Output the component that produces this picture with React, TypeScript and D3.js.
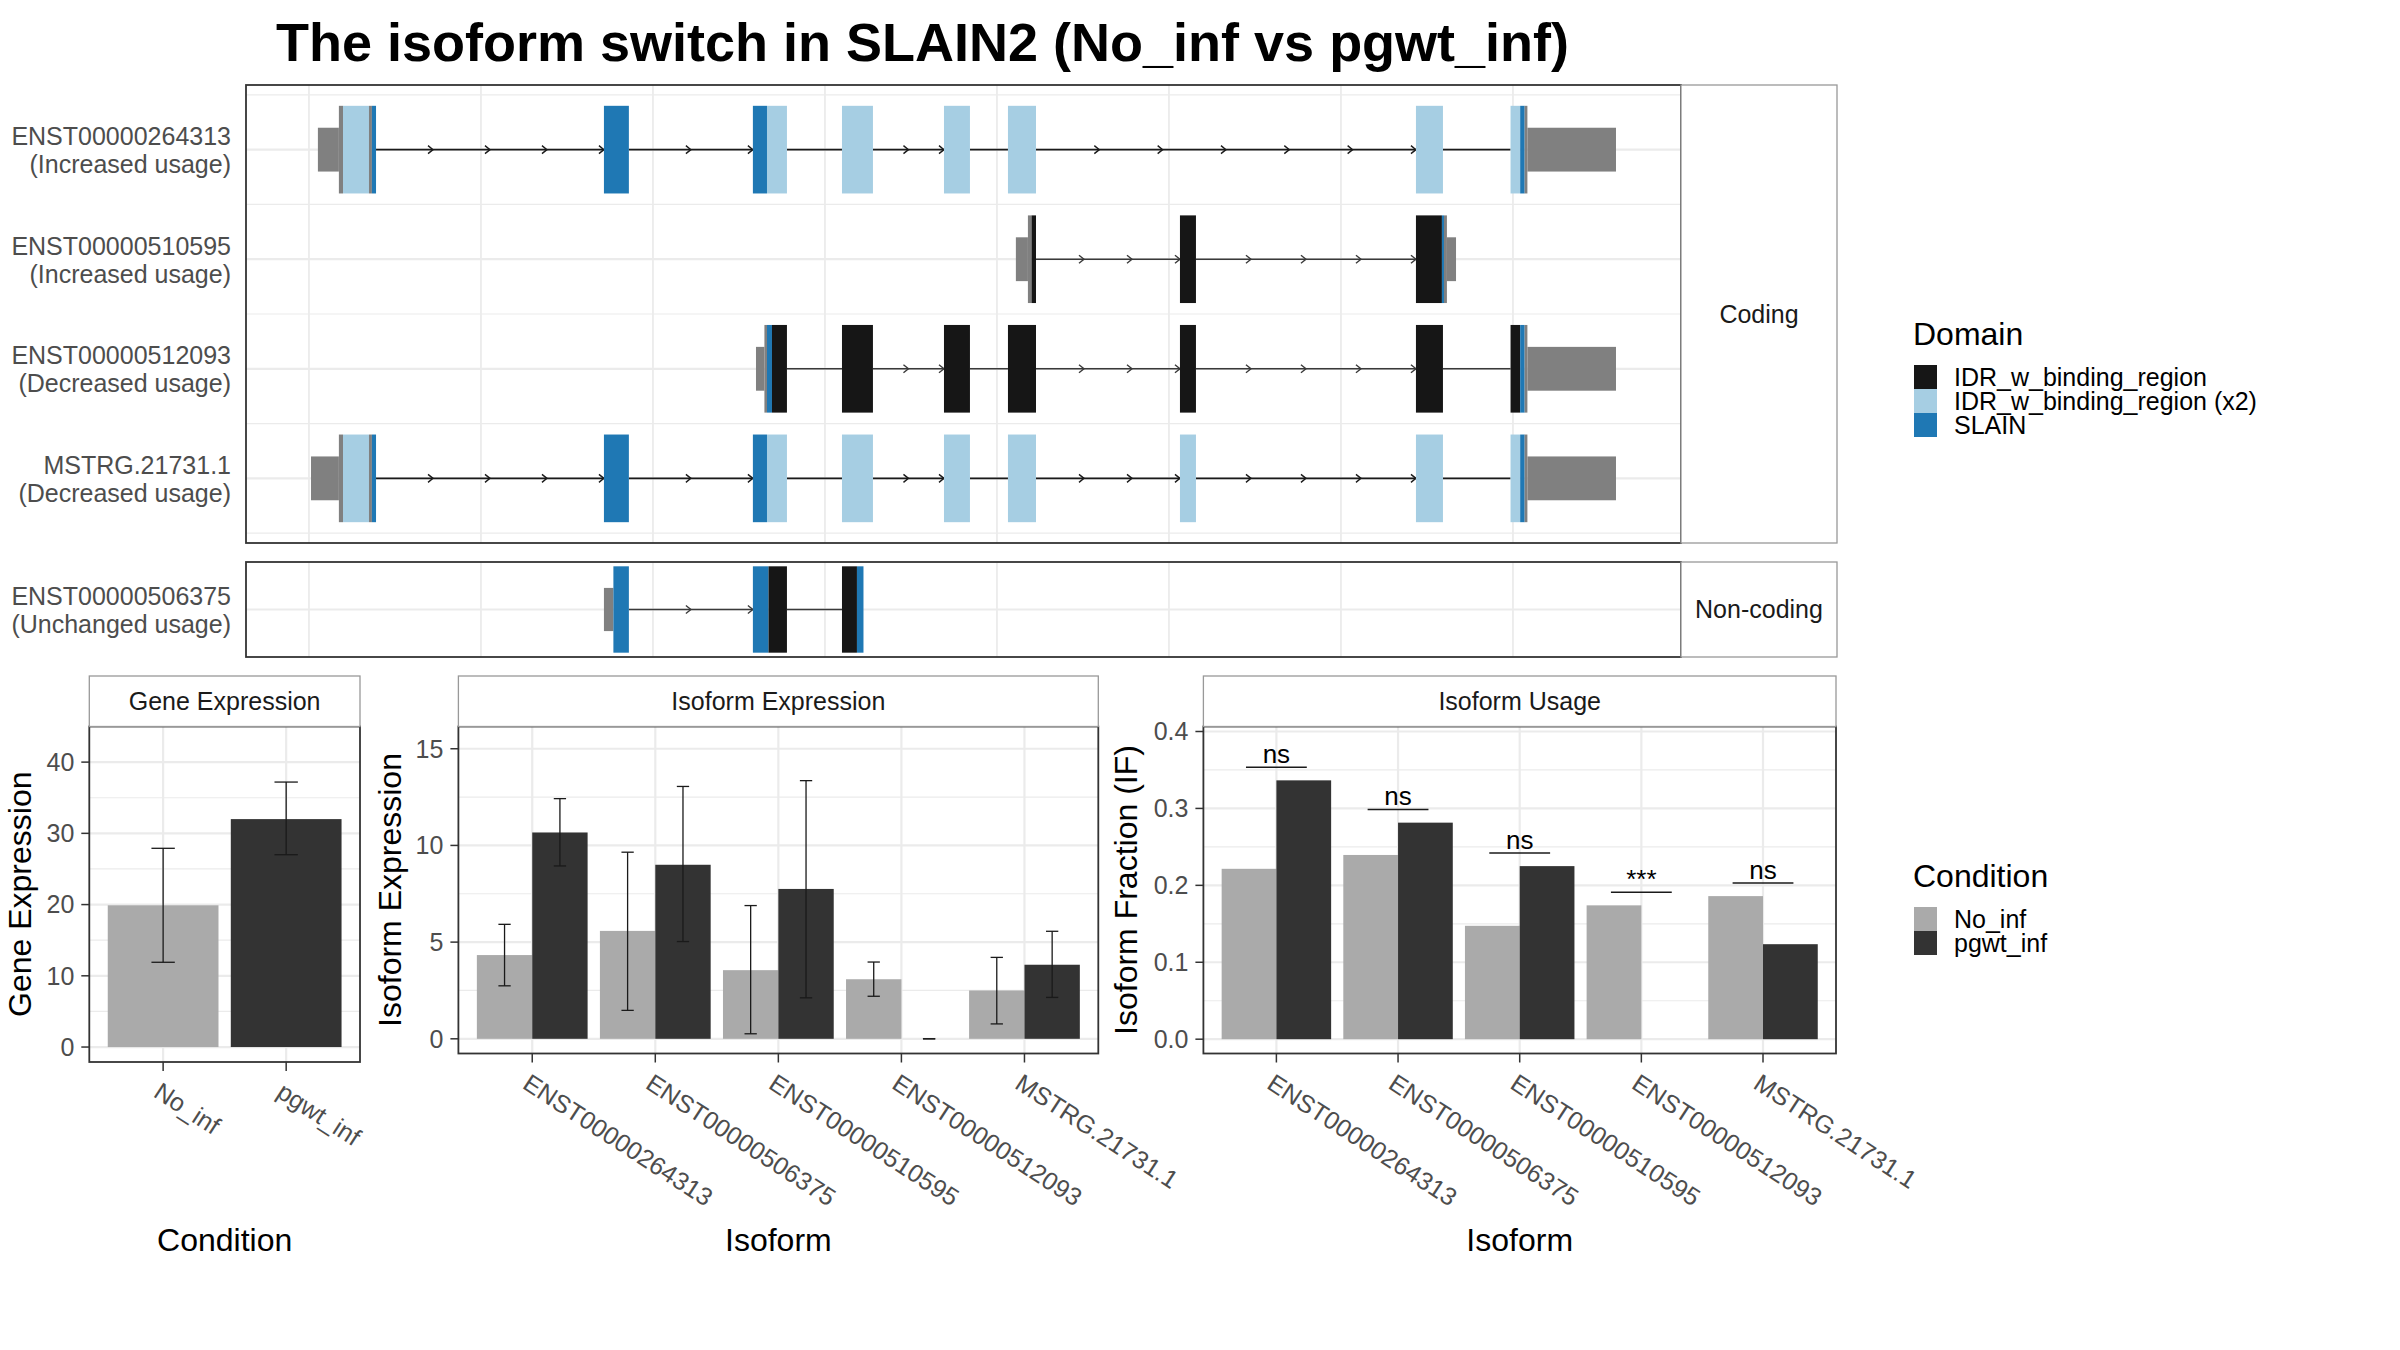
import React from 'react';
import * as d3 from 'd3';

const FONT = "'Liberation Sans', Arial, Helvetica, sans-serif";

// ---------------- Data ----------------
const titleText = 'The isoform switch in SLAIN2 (No_inf vs pgwt_inf)';

const domainNames = ['IDR_w_binding_region', 'IDR_w_binding_region (x2)', 'SLAIN'];
const domainColors = ['#161616', '#A6CEE3', '#1F78B4'];
const kindColor: Record<string, string> = {
  utr: '#808080',
  cds: '#808080',
  IDR: domainColors[0],
  IDR2: domainColors[1],
  SLAIN: domainColors[2],
};

type Seg = [number, number, string];

// exon segments in relative genomic coordinates (grid lines every 1000)
const tx264313: Seg[][] = [
  [[52, 174, 'utr'], [174, 198, 'cds'], [198, 349, 'IDR2'], [349, 366, 'cds'], [366, 390, 'SLAIN']],
  [[1715, 1860, 'SLAIN']],
  [[2581, 2663, 'SLAIN'], [2663, 2779, 'IDR2']],
  [[3099, 3279, 'IDR2']],
  [[3692, 3843, 'IDR2']],
  [[4064, 4227, 'IDR2']],
  [[6436, 6593, 'IDR2']],
  [[6986, 7042, 'IDR2'], [7042, 7068, 'SLAIN'], [7068, 7084, 'cds'], [7084, 7599, 'utr']],
];
const arrows264313 = [4, 2, 0, 2, 0, 6, 0];

const tx510595: Seg[][] = [
  [[4110, 4180, 'utr'], [4180, 4201, 'cds'], [4201, 4227, 'IDR']],
  [[5064, 5157, 'IDR']],
  [[6436, 6587, 'IDR'], [6587, 6599, 'SLAIN'], [6599, 6616, 'cds'], [6616, 6669, 'utr']],
];
const arrows510595 = [3, 4];

const tx512093: Seg[][] = [
  [[2599, 2648, 'utr'], [2648, 2663, 'cds'], [2663, 2692, 'SLAIN'], [2692, 2779, 'IDR']],
  [[3099, 3279, 'IDR']],
  [[3692, 3843, 'IDR']],
  [[4064, 4227, 'IDR']],
  [[5064, 5157, 'IDR']],
  [[6436, 6593, 'IDR']],
  [[6986, 7042, 'IDR'], [7042, 7068, 'SLAIN'], [7068, 7084, 'cds'], [7084, 7599, 'utr']],
];
const arrows512093 = [0, 2, 0, 3, 4, 0];

const txMSTRG: Seg[][] = [
  [[12, 174, 'utr'], [174, 198, 'cds'], [198, 349, 'IDR2'], [349, 366, 'cds'], [366, 390, 'SLAIN']],
  [[1715, 1860, 'SLAIN']],
  [[2581, 2663, 'SLAIN'], [2663, 2779, 'IDR2']],
  [[3099, 3279, 'IDR2']],
  [[3692, 3843, 'IDR2']],
  [[4064, 4227, 'IDR2']],
  [[5064, 5157, 'IDR2']],
  [[6436, 6593, 'IDR2']],
  [[6986, 7042, 'IDR2'], [7042, 7068, 'SLAIN'], [7068, 7084, 'cds'], [7084, 7599, 'utr']],
];
const arrowsMSTRG = [4, 2, 0, 2, 0, 3, 4, 0];

const tx506375: Seg[][] = [
  [[1715, 1770, 'utr'], [1770, 1860, 'SLAIN']],
  [[2581, 2672, 'SLAIN'], [2672, 2779, 'IDR']],
  [[3099, 3186, 'IDR'], [3186, 3224, 'SLAIN']],
];
const arrows506375 = [2, 0];

const codingIds = ['ENST00000264313', 'ENST00000510595', 'ENST00000512093', 'MSTRG.21731.1'];
const codingUsage = ['(Increased usage)', '(Increased usage)', '(Decreased usage)', '(Decreased usage)'];
const nonCodingIds = ['ENST00000506375'];
const nonCodingUsage = ['(Unchanged usage)'];

const genomeDomain = [-366, 7977];
const genomeGrid = [0, 1000, 2000, 3000, 4000, 5000, 6000, 7000];

// Gene expression
const conditions = ['No_inf', 'pgwt_inf'];
const conditionColors = ['#AAAAAA', '#333333'];
const geneExpr = [19.9, 32.0];
const geneLo = [11.9, 27.0];
const geneHi = [27.9, 37.2];

// Isoform expression
const isoforms = ['ENST00000264313', 'ENST00000506375', 'ENST00000510595', 'ENST00000512093', 'MSTRG.21731.1'];
const isoNo = [4.33, 5.58, 3.55, 3.08, 2.5];
const isoNoLo = [2.74, 1.47, 0.26, 2.2, 0.77];
const isoNoHi = [5.92, 9.65, 6.89, 3.97, 4.21];
const isoPg = [10.67, 9.0, 7.75, 0, 3.83];
const isoPgLo = [8.94, 5.03, 2.12, 0, 2.14];
const isoPgHi = [12.42, 13.05, 13.35, 0, 5.56];

// Isoform usage
const ifNo = [0.2215, 0.2395, 0.1474, 0.174, 0.186];
const ifPg = [0.3365, 0.2815, 0.225, 0, 0.1235];
const sigLabels = ['ns', 'ns', 'ns', '***', 'ns'];

// ---------------- Styles ----------------
const GRID = '#EBEBEB';
const BORDER = '#333333';
const STRIP_BORDER = '#999999';
const TICK_TXT = '#4D4D4D';

// ---------------- Components ----------------
function TranscriptPanel(props: any) {
  const { ids, usage, exonsList, arrowsList, lineColors, x0, x1, y0, y1, yDomain, strip } = props;
  const xs = d3.scaleLinear().domain(genomeDomain).range([x0, x1]);
  const ys = d3.scaleLinear().domain(yDomain).range([y0, y1]);
  const n = ids.length;
  const majorY = d3.range(1, n + 1);
  const minorY = d3.range(0.5, n + 1, 1).filter((v) => v > yDomain[0] && v < yDomain[1]);
  const cdsH = 0.4;
  const utrH = 0.2;
  return (
    <g>
      <rect x={x0} y={y0} width={x1 - x0} height={y1 - y0} fill="#fff" />
      {minorY.map((v) => (
        <line key={'mn' + v} x1={x0} x2={x1} y1={ys(v)} y2={ys(v)} stroke={GRID} strokeWidth={1.2} />
      ))}
      {majorY.map((v) => (
        <line key={'mj' + v} x1={x0} x2={x1} y1={ys(v)} y2={ys(v)} stroke={GRID} strokeWidth={2.2} />
      ))}
      {genomeGrid.map((g) => (
        <line key={'g' + g} x1={xs(g)} x2={xs(g)} y1={y0} y2={y1} stroke={GRID} strokeWidth={1.8} />
      ))}
      {exonsList.map((exons: Seg[][], ri: number) => {
        const yc = ys(ri + 1);
        const introns: any[] = [];
        for (let i = 0; i < exons.length - 1; i++) {
          const a = exons[i][exons[i].length - 1][1];
          const b = exons[i + 1][0][0];
          introns.push({ a, b, n: arrowsList[ri][i] });
        }
        return (
          <g key={'r' + ri}>
            {introns.map((it, ii) => (
              <g key={'i' + ii}>
                <line x1={xs(it.a)} x2={xs(it.b)} y1={yc} y2={yc} stroke={lineColors[ri]} strokeWidth={1.6} />
                {d3.range(it.n).map((k) => {
                  const ax = xs(it.a + ((k + 1) * (it.b - it.a)) / it.n);
                  return (
                    <path
                      key={'a' + k}
                      d={`M${ax - 5},${yc - 4}L${ax},${yc}L${ax - 5},${yc + 4}`}
                      fill="none"
                      stroke={lineColors[ri]}
                      strokeWidth={1.4}
                    />
                  );
                })}
              </g>
            ))}
            {exons.flat().map((s, si) => {
              const h = s[2] === 'utr' ? utrH : cdsH;
              return (
                <rect
                  key={'s' + si}
                  x={xs(s[0])}
                  width={xs(s[1]) - xs(s[0])}
                  y={ys(ri + 1 - h)}
                  height={ys(ri + 1 + h) - ys(ri + 1 - h)}
                  fill={kindColor[s[2]]}
                />
              );
            })}
            <text textAnchor="end" fontSize={25} fill={TICK_TXT}>
              <tspan x={231} y={yc - 4.7}>{ids[ri]}</tspan>
              <tspan x={231} y={yc + 23.7}>{usage[ri]}</tspan>
            </text>
          </g>
        );
      })}
      <rect x={x0} y={y0} width={x1 - x0} height={y1 - y0} fill="none" stroke={BORDER} strokeWidth={1.8} />
      <rect x={x1} y={y0} width={1837 - x1} height={y1 - y0} fill="#fff" stroke={STRIP_BORDER} strokeWidth={1.3} />
      <text x={(x1 + 1837) / 2} y={(y0 + y1) / 2 + 8.5} textAnchor="middle" fontSize={25} fill="#1A1A1A">
        {strip}
      </text>
    </g>
  );
}

function BarPanel(props: any) {
  const {
    x0, x1, y0, y1, cats, yDomain, yTicks, yMinor, fmt, strip, yTitle, yTitleX, xTitle,
    groups, colors, vals, los, his, sig, capFrac,
  } = props;
  const xp = d3.scalePoint().domain(cats).range([x0, x1]).padding(0.6);
  const step = xp.step();
  const ys = d3.scaleLinear().domain(yDomain).range([y1, y0]);
  const ng = groups;
  const bw = (0.9 * step) / ng;
  const tickEnd = y1 + 9;
  return (
    <g>
      <rect x={x0} y={y0} width={x1 - x0} height={y1 - y0} fill="#fff" />
      {yMinor.map((v: number) => (
        <line key={'mn' + v} x1={x0} x2={x1} y1={ys(v)} y2={ys(v)} stroke={GRID} strokeWidth={1.2} />
      ))}
      {yTicks.map((v: number) => (
        <line key={'mj' + v} x1={x0} x2={x1} y1={ys(v)} y2={ys(v)} stroke={GRID} strokeWidth={2.2} />
      ))}
      {cats.map((c: string) => (
        <line key={'vx' + c} x1={xp(c)} x2={xp(c)} y1={y0} y2={y1} stroke={GRID} strokeWidth={2.2} />
      ))}
      {cats.map((c: string, ci: number) => (
        <g key={'b' + c}>
          {d3.range(ng).map((gi) => {
            const v = vals[gi][ci];
            const color = ng === 1 ? colors[ci] : colors[gi];
            const bx = (xp(c) as number) - (0.9 * step) / 2 + gi * bw;
            return v > 0 ? (
              <rect key={'r' + gi} x={bx} width={bw} y={ys(v)} height={ys(0) - ys(v)} fill={color} />
            ) : null;
          })}
        </g>
      ))}
      {los &&
        cats.map((c: string, ci: number) => (
          <g key={'e' + c}>
            {d3.range(ng).map((gi) => {
              const cx = (xp(c) as number) - (0.9 * step) / 2 + gi * bw + bw / 2;
              const cw = (capFrac * step) / ng / 2;
              const lo = ys(los[gi][ci]);
              const hi = ys(his[gi][ci]);
              return (
                <g key={'eb' + gi} stroke="#1A1A1A" strokeWidth={1.3}>
                  <line x1={cx} x2={cx} y1={lo} y2={hi} />
                  <line x1={cx - cw} x2={cx + cw} y1={hi} y2={hi} />
                  <line x1={cx - cw} x2={cx + cw} y1={lo} y2={lo} />
                </g>
              );
            })}
          </g>
        ))}
      {sig &&
        cats.map((c: string, ci: number) => {
          const top = Math.max(vals[0][ci], vals[1][ci]) + 0.017;
          const cx = xp(c) as number;
          return (
            <g key={'s' + c}>
              <line x1={cx - step * 0.25} x2={cx + step * 0.25} y1={ys(top)} y2={ys(top)} stroke="#1A1A1A" strokeWidth={1.5} />
              <text x={cx} y={ys(top) - 4.5} textAnchor="middle" fontSize={26} fill="#000">
                {sig[ci]}
              </text>
            </g>
          );
        })}
      <rect x={x0} y={y0} width={x1 - x0} height={y1 - y0} fill="none" stroke={BORDER} strokeWidth={1.8} />
      {/* strip */}
      <rect x={x0} y={676} width={x1 - x0} height={y0 - 676} fill="#fff" stroke={STRIP_BORDER} strokeWidth={1.3} />
      <text x={(x0 + x1) / 2} y={(676 + y0) / 2 + 8.7} textAnchor="middle" fontSize={25} fill="#1A1A1A">
        {strip}
      </text>
      {/* y axis */}
      {yTicks.map((v: number) => (
        <g key={'yt' + v}>
          <line x1={x0 - 8} x2={x0} y1={ys(v)} y2={ys(v)} stroke={BORDER} strokeWidth={1.5} />
          <text x={x0 - 15} y={ys(v) + 8.8} textAnchor="end" fontSize={25} fill={TICK_TXT}>
            {fmt(v)}
          </text>
        </g>
      ))}
      {/* x axis */}
      {cats.map((c: string) => {
        const tx = xp(c) as number;
        return (
          <g key={'xt' + c}>
            <line x1={tx} x2={tx} y1={y1} y2={tickEnd} stroke={BORDER} strokeWidth={1.5} />
            <text
              transform={`translate(${tx - 11},${tickEnd + 25}) rotate(33)`}
              textAnchor="start"
              fontSize={25}
              fill={TICK_TXT}
            >
              {c}
            </text>
          </g>
        );
      })}
      <text x={(x0 + x1) / 2} y={1251} textAnchor="middle" fontSize={32} fill="#000">
        {xTitle}
      </text>
      <text
        transform={`translate(${yTitleX},${(y0 + y1) / 2}) rotate(-90)`}
        textAnchor="middle"
        fontSize={32}
        fill="#000"
      >
        {yTitle}
      </text>
    </g>
  );
}

function Legend(props: any) {
  const { x, titleY, keysY, title, names, colors } = props;
  return (
    <g>
      <text x={x} y={titleY} fontSize={32} fill="#000">
        {title}
      </text>
      {names.map((nm: string, i: number) => (
        <g key={nm}>
          <rect x={x + 1} y={keysY + i * 24} width={23} height={24} fill={colors[i]} />
          <text x={x + 41} y={keysY + i * 24 + 12 + 9} fontSize={25} fill="#000">
            {nm}
          </text>
        </g>
      ))}
    </g>
  );
}

export default function App() {
  return (
    <svg
      width={2400}
      height={1350}
      viewBox="0 0 2400 1350"
      style={{ position: 'absolute', left: 0, top: 0, display: 'block' }}
      fontFamily={FONT}
    >
      <rect width={2400} height={1350} fill="#fff" />
      <text x={276} y={61} fontSize={54} fontWeight="bold" fill="#000">
        {titleText}
      </text>

      <TranscriptPanel
        ids={codingIds}
        usage={codingUsage}
        exonsList={[tx264313, tx510595, tx512093, txMSTRG]}
        arrowsList={[arrows264313, arrows510595, arrows512093, arrowsMSTRG]}
        lineColors={['#1A1A1A', '#3A3A3A', '#3A3A3A', '#1A1A1A']}
        x0={246}
        x1={1681}
        y0={85}
        y1={543}
        yDomain={[0.41, 4.59]}
        strip="Coding"
      />
      <TranscriptPanel
        ids={nonCodingIds}
        usage={nonCodingUsage}
        exonsList={[tx506375]}
        arrowsList={[arrows506375]}
        lineColors={['#3A3A3A']}
        x0={246}
        x1={1681}
        y0={562}
        y1={657}
        yDomain={[0.56, 1.44]}
        strip="Non-coding"
      />

      <BarPanel
        x0={89.3}
        x1={360}
        y0={726.5}
        y1={1062}
        cats={conditions}
        yDomain={[-2.1, 45.0]}
        yTicks={[0, 10, 20, 30, 40]}
        yMinor={[5, 15, 25, 35]}
        fmt={(v: number) => String(v)}
        strip="Gene Expression"
        yTitle="Gene Expression"
        yTitleX={31}
        xTitle="Condition"
        groups={1}
        colors={conditionColors}
        vals={[geneExpr]}
        los={[geneLo]}
        his={[geneHi]}
        capFrac={0.19}
      />
      <BarPanel
        x0={458.4}
        x1={1098.3}
        y0={726.5}
        y1={1053.5}
        cats={isoforms}
        yDomain={[-0.76, 16.15]}
        yTicks={[0, 5, 10, 15]}
        yMinor={[2.5, 7.5, 12.5]}
        fmt={(v: number) => String(v)}
        strip="Isoform Expression"
        yTitle="Isoform Expression"
        yTitleX={401}
        xTitle="Isoform"
        groups={2}
        colors={conditionColors}
        vals={[isoNo, isoPg]}
        los={[isoNoLo, isoPgLo]}
        his={[isoNoHi, isoPgHi]}
        capFrac={0.2}
      />
      <BarPanel
        x0={1203.4}
        x1={1836}
        y0={726.5}
        y1={1053.5}
        cats={isoforms}
        yDomain={[-0.0186, 0.4065]}
        yTicks={[0, 0.1, 0.2, 0.3, 0.4]}
        yMinor={[0.05, 0.15, 0.25, 0.35]}
        fmt={(v: number) => d3.format('.1f')(v)}
        strip="Isoform Usage"
        yTitle="Isoform Fraction (IF)"
        yTitleX={1137}
        xTitle="Isoform"
        groups={2}
        colors={conditionColors}
        vals={[ifNo, ifPg]}
        sig={sigLabels}
      />

      <Legend x={1913} titleY={345} keysY={365} title="Domain" names={domainNames} colors={domainColors} />
      <Legend x={1913} titleY={887} keysY={907} title="Condition" names={conditions} colors={conditionColors} />
    </svg>
  );
}
